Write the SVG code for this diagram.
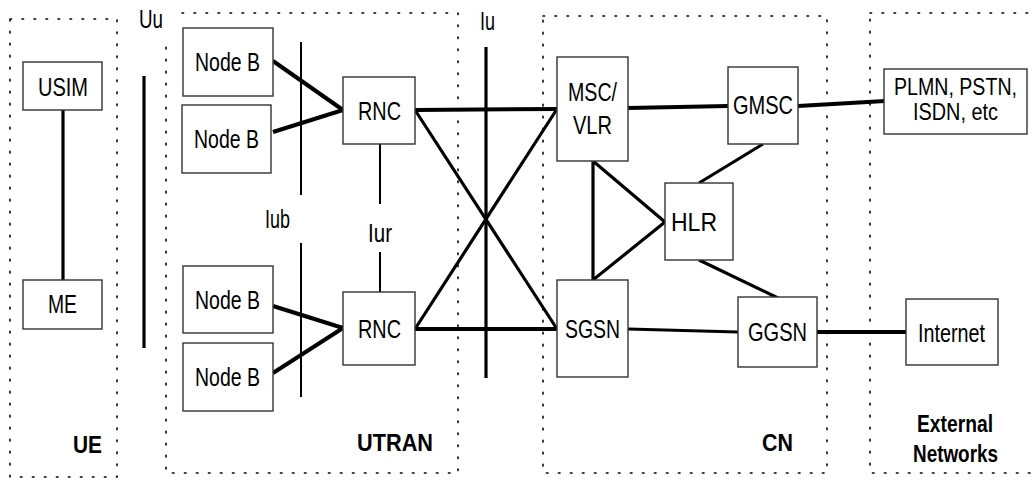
<svg xmlns="http://www.w3.org/2000/svg" width="1036" height="479" viewBox="0 0 1036 479">
<style>
.bg{fill:#fff}
.region{fill:none;stroke:#000;stroke-width:1.6;stroke-dasharray:1.6 10.4;stroke-linecap:round}
.box{fill:#fff;stroke:#333;stroke-width:1.4}
.t{font-family:"Liberation Sans",Arial,sans-serif;font-size:26px;fill:#000}
.t2{font-family:"Liberation Sans",Arial,sans-serif;font-size:23px;fill:#000}
.lbl{font-family:"Liberation Sans",Arial,sans-serif;font-size:25px;fill:#000}
.b{font-family:"Liberation Sans",Arial,sans-serif;font-size:23px;font-weight:bold;fill:#000}
.thick{stroke:#000;stroke-width:4;fill:none}
.med{stroke:#000;stroke-width:3.2;fill:none}
.thin{stroke:#000;stroke-width:2;fill:none}
</style>
<rect class="bg" x="0" y="0" width="1036" height="479"/>
<g id="regions">
<rect class="region" x="10" y="19" width="107" height="458"/>
<polyline class="region" points="182,13 458,13 458,473 166,473 166,43"/>
<rect class="region" x="543" y="16" width="284" height="457"/>
<rect class="region" x="870" y="13" width="180" height="460"/>
<text class="b" x="102" y="453" text-anchor="end" textLength="29" lengthAdjust="spacingAndGlyphs">UE</text>
<text class="b" x="357" y="451" textLength="76" lengthAdjust="spacingAndGlyphs">UTRAN</text>
<text class="b" x="762" y="451" textLength="31" lengthAdjust="spacingAndGlyphs">CN</text>
<text class="b" x="917" y="432" textLength="76" lengthAdjust="spacingAndGlyphs">External</text>
<text class="b" x="913" y="462" textLength="85" lengthAdjust="spacingAndGlyphs">Networks</text>
</g>
<g id="interfaces">
<line class="med" x1="144" y1="76" x2="144" y2="348"/>
<line class="thin" x1="301" y1="42" x2="301" y2="195"/>
<line class="thin" x1="301" y1="243" x2="301" y2="397"/>
<line class="thin" x1="380" y1="144" x2="380" y2="204"/>
<line class="thin" x1="380" y1="252" x2="380" y2="292"/>
<line class="med" x1="486" y1="47" x2="486" y2="378"/>
<text class="lbl" x="139" y="28" textLength="24" lengthAdjust="spacingAndGlyphs">Uu</text>
<text class="lbl" x="480" y="30" textLength="15" lengthAdjust="spacingAndGlyphs">Iu</text>
<text class="lbl" x="265" y="228" textLength="25" lengthAdjust="spacingAndGlyphs">Iub</text>
<text class="lbl" x="368" y="242" textLength="24" lengthAdjust="spacingAndGlyphs">Iur</text>
</g>
<g id="connectors">
<line class="med" x1="63" y1="110" x2="63" y2="280"/>
<line class="thick" x1="273" y1="61" x2="343" y2="110"/>
<line class="thick" x1="273" y1="132" x2="343" y2="110"/>
<line class="thick" x1="273" y1="306" x2="343" y2="328"/>
<line class="thick" x1="273" y1="373" x2="343" y2="328"/>
<line class="thick" x1="415" y1="110" x2="557" y2="109"/>
<line class="med" x1="415" y1="110" x2="557" y2="329"/>
<line class="med" x1="415" y1="329" x2="557" y2="109"/>
<line class="thick" x1="415" y1="329" x2="557" y2="329"/>
<polyline class="med" points="593,161 593,280 665,222 593,161"/>
<line class="thick" x1="628" y1="108" x2="728" y2="106"/>
<line class="thick" x1="798" y1="106" x2="885" y2="101"/>
<line class="med" x1="763" y1="144" x2="699" y2="183"/>
<line class="med" x1="699" y1="260" x2="778" y2="298"/>
<line class="med" x1="628" y1="329" x2="738" y2="332"/>
<line class="thick" x1="817" y1="332" x2="906" y2="332"/>
</g>
<g id="usim"><rect class="box" x="23" y="62" width="79" height="48"/><text class="t" x="38" y="96" textLength="50" lengthAdjust="spacingAndGlyphs">USIM</text></g>
<g id="me"><rect class="box" x="23" y="280" width="79" height="49"/><text class="t" x="48" y="313" textLength="29" lengthAdjust="spacingAndGlyphs">ME</text></g>
<g id="nodeb1"><rect class="box" x="183" y="28" width="90" height="68"/><text class="t" x="195" y="71" textLength="65" lengthAdjust="spacingAndGlyphs">Node B</text></g>
<g id="nodeb2"><rect class="box" x="182" y="105" width="89" height="68"/><text class="t" x="194" y="148" textLength="65" lengthAdjust="spacingAndGlyphs">Node B</text></g>
<g id="nodeb3"><rect class="box" x="183" y="266" width="90" height="67"/><text class="t" x="195" y="309" textLength="65" lengthAdjust="spacingAndGlyphs">Node B</text></g>
<g id="nodeb4"><rect class="box" x="183" y="343" width="90" height="68"/><text class="t" x="195" y="386" textLength="65" lengthAdjust="spacingAndGlyphs">Node B</text></g>
<g id="rnc1"><rect class="box" x="343" y="77" width="72" height="67"/><text class="t" x="358" y="120" textLength="43" lengthAdjust="spacingAndGlyphs">RNC</text></g>
<g id="rnc2"><rect class="box" x="343" y="292" width="72" height="73"/><text class="t" x="358" y="338" textLength="43" lengthAdjust="spacingAndGlyphs">RNC</text></g>
<g id="msc"><rect class="box" x="557" y="57" width="71" height="104"/><text class="t" x="568" y="101" textLength="49" lengthAdjust="spacingAndGlyphs">MSC/</text><text class="t" x="573" y="134" textLength="39" lengthAdjust="spacingAndGlyphs">VLR</text></g>
<g id="sgsn"><rect class="box" x="557" y="280" width="71" height="97"/><text class="t" x="565" y="338" textLength="55" lengthAdjust="spacingAndGlyphs">SGSN</text></g>
<g id="hlr"><rect class="box" x="665" y="183" width="68" height="77"/><text class="t" x="671" y="231" textLength="46" lengthAdjust="spacingAndGlyphs">HLR</text></g>
<g id="gmsc"><rect class="box" x="728" y="67" width="70" height="77"/><text class="t" x="733" y="114" textLength="60" lengthAdjust="spacingAndGlyphs">GMSC</text></g>
<g id="ggsn"><rect class="box" x="738" y="297" width="79" height="70"/><text class="t" x="748" y="341" textLength="59" lengthAdjust="spacingAndGlyphs">GGSN</text></g>
<g id="plmn"><rect class="box" x="884" y="69" width="143" height="65"/><text class="t2" x="894" y="95" textLength="123" lengthAdjust="spacingAndGlyphs">PLMN, PSTN,</text><text class="t2" x="913" y="120" textLength="85" lengthAdjust="spacingAndGlyphs">ISDN, etc</text></g>
<g id="internet"><rect class="box" x="906" y="299" width="92" height="66"/><text class="t" x="918" y="342" textLength="67" lengthAdjust="spacingAndGlyphs">Internet</text></g>
</svg>
